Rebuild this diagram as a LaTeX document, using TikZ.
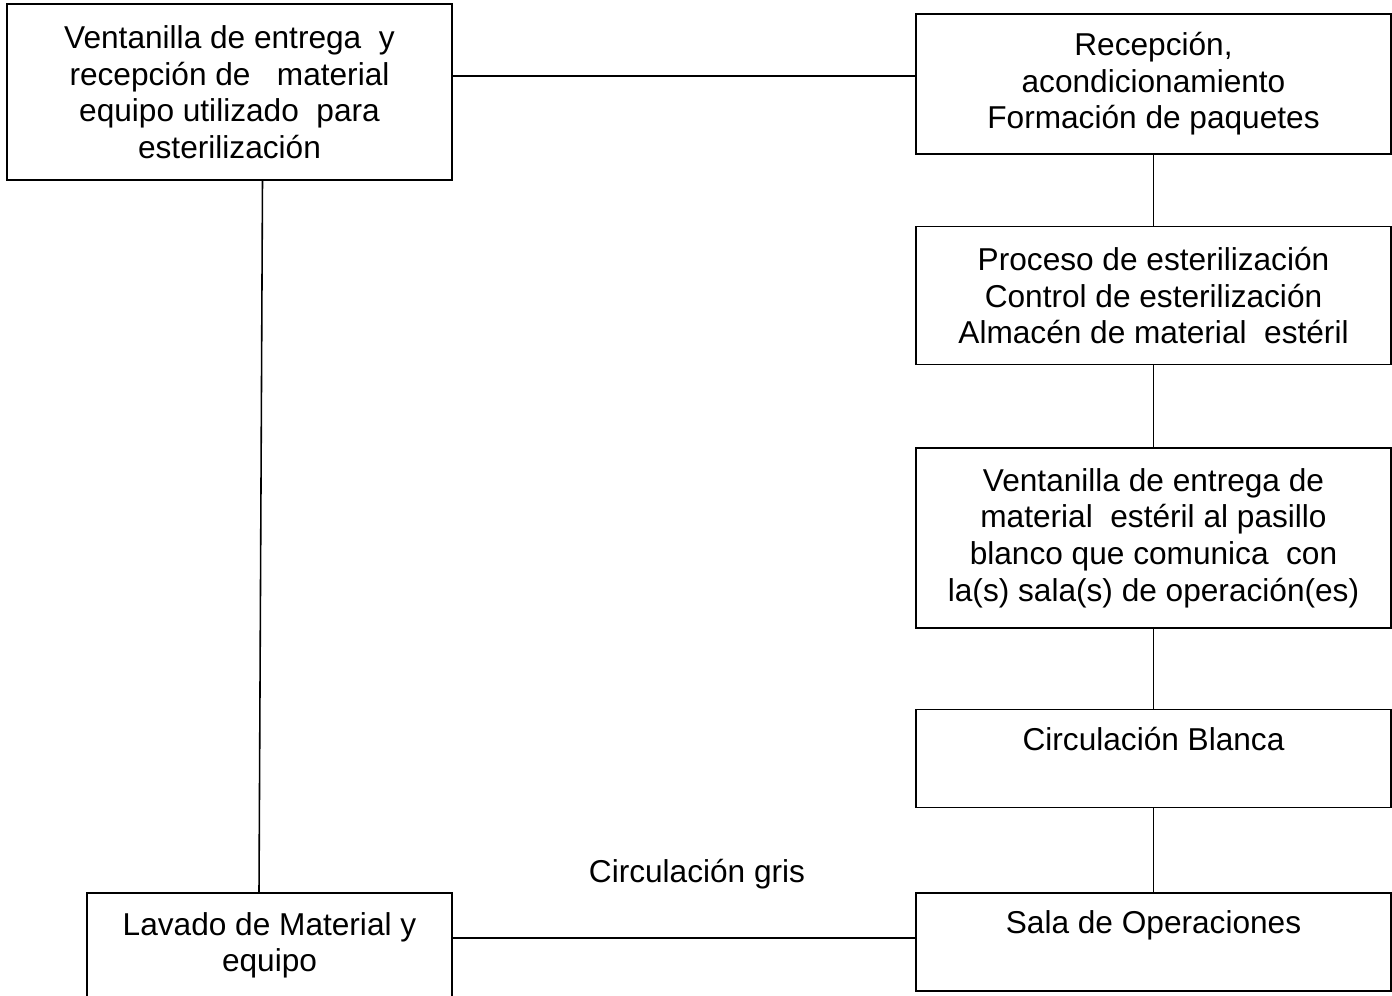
\documentclass[tikz,border=0pt]{standalone}
\usepackage{fontspec}
\setmainfont{Liberation Sans}
\usepackage{tikz}
\usetikzlibrary{positioning}

\begin{document}
\begin{tikzpicture}[x=0.02cm, y=-0.02cm,
        every node/.style={font=\fontsize{18}{20.8}\selectfont},
        box/.style={draw, rectangle, line width=0.9pt, align=center, inner sep=2pt},
        colbox/.style={box, minimum width=9.5cm},
        topbox/.style={colbox, inner sep=0pt, text height=0.81cm, text depth=1.15cm},
        link/.style={line width=0.9pt}
    ]
    \useasboundingbox (0,0) rectangle (1392,996);

    % Left column
    \node[box, minimum width=8.9cm, minimum height=3.52cm] (ventana) at (229.5,92)
        {Ventanilla de entrega\ \ y\\recepción de\ \ \ material\\equipo utilizado\ \ para\\esterilización};
    \node[box, minimum width=7.3cm, minimum height=2.1cm] (lavado) at (269.5,945.5)
        {Lavado de Material y\\equipo};

    % Right column
    \node[colbox, minimum height=2.8cm] (recep) at (1153.5,84)
        {Recepción,\\acondicionamiento\\Formación de paquetes};
    \node[colbox, minimum height=2.76cm] (proceso) [below=1.42cm of recep]
        {Proceso de esterilización\\Control de esterilización\\Almacén de material\ \ estéril};
    \node[colbox, minimum height=3.6cm] (entrega) [below=1.64cm of proceso]
        {Ventanilla de entrega de\\material\ \ estéril\ al pasillo\\blanco que comunica\ \ con\\la(s) sala(s) de operación(es)};
    \node[topbox] (blanca) [below=1.6cm of entrega] {Circulación Blanca};
    \node[topbox] (sala) [below=1.68cm of blanca] {Sala de Operaciones};

    % Label
    \node[anchor=base] (gris) at (697,882) {Circulación gris};

    % Links
    \draw[link] (ventana.east |- 0,76) -- (recep.west |- 0,76);
    \draw[link] (recep) -- (proceso);
    \draw[link] (proceso) -- (entrega);
    \draw[link] (entrega) -- (blanca);
    \draw[link] (blanca.south) -- (sala.north);
    \draw[link] ([xshift=0.66cm]ventana.south) -- ([xshift=-0.21cm]lavado.north);
    \draw[link] (lavado.east |- 0,938) -- (sala.west |- 0,938);

\end{tikzpicture}
\end{document}
